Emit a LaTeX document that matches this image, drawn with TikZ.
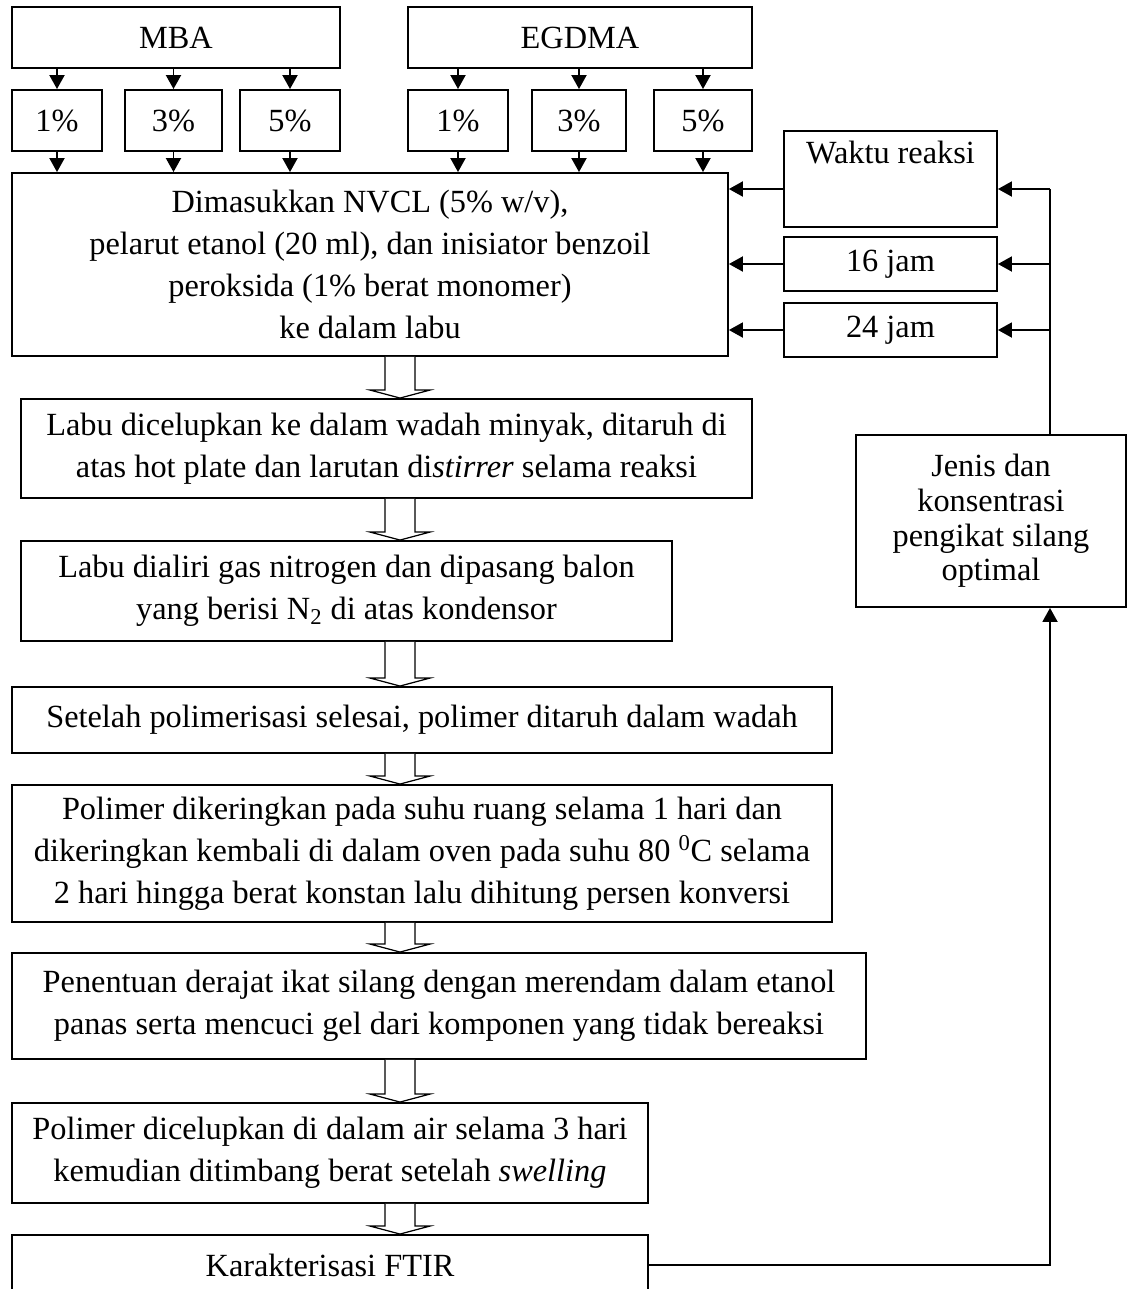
\documentclass[tikz,border=0pt]{standalone}
\usepackage{fontspec}
\setmainfont{Liberation Serif}
\usetikzlibrary{arrows.meta,calc}

\begin{document}
\begin{tikzpicture}[x=0.02cm,y=-0.02cm,
  kotak/.style={draw,line width=1.1pt,inner sep=0pt,align=center,
    font=\fontsize{18.4pt}{23.8pt}\selectfont},
  persen/.style={kotak,minimum height=1.22cm},
  jam/.style={kotak,minimum width=4.26cm,minimum height=1.08cm},
  panah/.style={line width=1.1pt,-{Triangle[width=0.3cm,length=0.28cm]}},
  garis/.style={line width=1.1pt},
  blok/.style={line width=0.7pt,fill=white}]
  \useasboundingbox (0,0) rectangle (1127,1289);
    % Crosslinkers
    \node[kotak,minimum width=6.56cm,minimum height=1.22cm] (mba) at (176,37.5) {MBA};
    \node[persen,minimum width=1.8cm] (mba1) at (57,120.5) {1\%};
    \node[persen,minimum width=1.94cm] (mba3) at (173.5,120.5) {3\%};
    \node[persen,minimum width=2cm] (mba5) at (290,120.5) {5\%};
    \node[kotak,minimum width=6.88cm,minimum height=1.22cm] (egdma) at (580,37.5) {EGDMA};
    \node[persen,minimum width=2cm] (eg1) at (458,120.5) {1\%};
    \node[persen,minimum width=1.88cm] (eg3) at (579,120.5) {3\%};
    \node[persen,minimum width=1.96cm] (eg5) at (703,120.5) {5\%};
    % Main steps
    \node[kotak,minimum width=14.32cm,minimum height=3.66cm] (mulai) at (370,264.5)
      {Dimasukkan NVCL (5\% w/v),\\pelarut etanol (20 ml), dan inisiator benzoil\\
       peroksida (1\% berat monomer)\\ke dalam labu};
    \node[kotak,minimum width=14.62cm,minimum height=1.98cm] (labu1) at (386.5,448.5)
      {Labu dicelupkan ke dalam wadah minyak, ditaruh di\\
       atas hot plate dan larutan di\textit{stirrer} selama reaksi};
    \node[kotak,minimum width=13.02cm,minimum height=2cm] (labu2) at (346.5,591)
      {Labu dialiri gas nitrogen dan dipasang balon\\
       yang berisi N\textsubscript{2} di atas kondensor};
    \node[kotak,minimum width=16.4cm,minimum height=1.32cm] (setelah) at (422,720)
      {Setelah polimerisasi selesai, polimer ditaruh dalam wadah};
    \node[kotak,minimum width=16.4cm,minimum height=2.74cm] (kering) at (422,853.5)
      {Polimer dikeringkan pada suhu ruang selama 1 hari dan\\
       dikeringkan kembali di dalam oven pada suhu 80 \textsuperscript{0}C selama\\
       2 hari hingga berat konstan lalu dihitung persen konversi};
    \node[kotak,minimum width=17.08cm,minimum height=2.12cm] (tentu) at (439,1006)
      {Penentuan derajat ikat silang dengan merendam dalam etanol\\
       panas serta mencuci gel dari komponen yang tidak bereaksi};
    \node[kotak,minimum width=12.72cm,minimum height=2cm] (celup) at (330,1153)
      {Polimer dicelupkan di dalam air selama 3 hari\\
       kemudian ditimbang berat setelah \textit{swelling}};
    \node[kotak,minimum width=12.72cm,minimum height=1.2cm] (ftir) at (330,1265)
      {Karakterisasi FTIR};
    % Reaction time
    \node[kotak,minimum width=4.26cm,minimum height=1.92cm] (waktu) at (890.5,179)
      {Waktu reaksi\\\strut};
    \node[jam] (j16) at (890.5,264) {16 jam};
    \node[jam] (j24) at (890.5,330) {24 jam};
    \node[kotak,minimum width=5.4cm,minimum height=3.44cm,
      font=\fontsize{18.4pt}{19.8pt}\selectfont] (jenis) at (991,521)
      {Jenis dan\\konsentrasi\\pengikat silang\\optimal};
    \coordinate (kanan) at (1050,189);
    \coordinate (ax) at (400,0);
    % Arrows
    \foreach \k in {mba1,mba3,mba5}
      \draw[panah] (\k.north |- mba.south) -- (\k.north);
    \foreach \k in {eg1,eg3,eg5}
      \draw[panah] (\k.north |- egdma.south) -- (\k.north);
    \foreach \k in {mba1,mba3,mba5,eg1,eg3,eg5}
      \draw[panah] (\k.south) -- (\k.south |- mulai.north);
    \draw[panah] (kanan -| waktu.west) -- (kanan -| mulai.east);
    \draw[panah] (j16.west) -- (j16.west -| mulai.east);
    \draw[panah] (j24.west) -- (j24.west -| mulai.east);
    \draw[panah] (kanan) -- (kanan -| waktu.east);
    \draw[panah] (kanan |- j16.east) -- (j16.east);
    \draw[panah] (kanan |- j24.east) -- (j24.east);
    \draw[garis] (jenis.north -| kanan) -- (kanan);
    \draw[panah] (ftir.east) -| (jenis.south -| kanan);
    \foreach \a/\b in {mulai/labu1,labu1/labu2,labu2/setelah,setelah/kering,
                       kering/tentu,tentu/celup,celup/ftir}
      \draw[blok] ($(\a.south -| ax)+(-15,0)$) -- ($(\b.north -| ax)+(-15,-8)$)
        -- ++(-15,0) -- (\b.north -| ax) -- ($(\b.north -| ax)+(30,-8)$)
        -- ++(-15,0) -- ($(\a.south -| ax)+(15,0)$);
\end{tikzpicture}
\end{document}
